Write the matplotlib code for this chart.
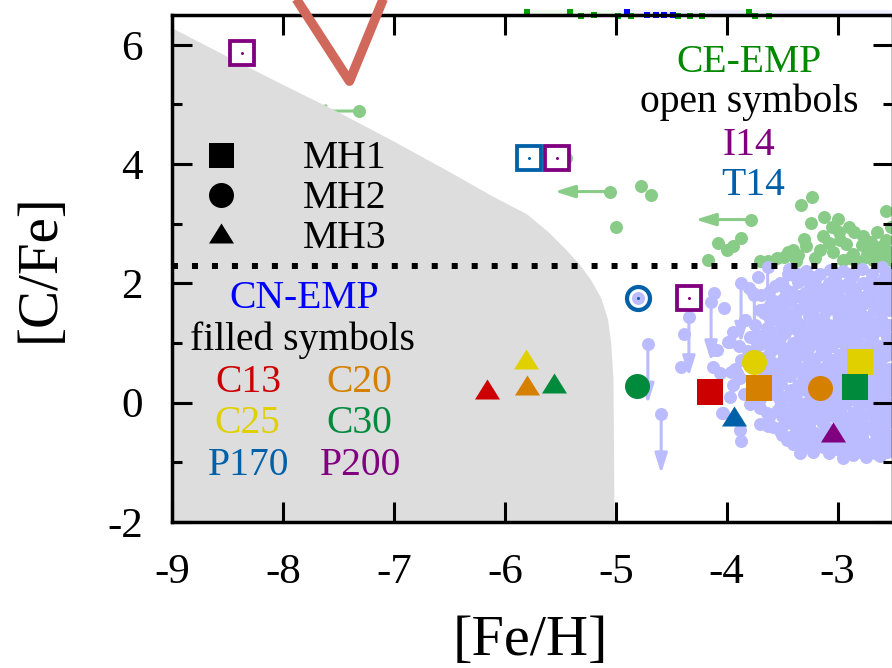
import matplotlib
matplotlib.use("Agg")
import matplotlib.pyplot as plt
from matplotlib.path import Path
from matplotlib.ticker import MultipleLocator, FixedLocator
from matplotlib.patches import Polygon, Rectangle

plt.rcParams["font.family"] = ["Liberation Serif", "DejaVu Serif"]
plt.rcParams["axes.unicode_minus"] = False

# ---------------------------------------------------------------- colours
LAV = "#bbbbff"
CEG = "#88cc88"
RED = "#cc0000"
ORA = "#d68000"
YEL = "#e0d000"
GRN = "#008a3c"
BLU = "#0060a8"
PUR = "#800080"

# ---------------------------------------------------------------- data
# CN-EMP stars (observed)
cn_feh = [
    -3.44, -3.28, -3.07, -2.95, -2.78, -2.60, -2.53,
    -3.72, -3.40, -3.31, -3.20, -3.02, -2.88, -2.70, -2.56,
    -3.80, -3.56, -3.47, -3.24, -3.13, -2.98, -2.84, -2.66, -2.52,
    -3.76, -3.69, -3.48, -3.36, -3.22, -3.10, -2.95, -2.80, -2.65, -2.55,
    -4.02, -3.61, -3.52, -3.31, -3.18, -3.05, -2.92, -2.78, -2.62,
    -3.83, -3.66, -3.57, -3.43, -3.26, -3.01, -2.87, -2.74, -2.59,
    -3.74, -3.55, -3.40, -3.33, -3.16, -3.08, -2.95, -2.82, -2.68, -2.54,
    -3.94, -3.70, -3.61, -3.47, -3.28, -3.21, -3.03, -2.90, -2.76, -2.63,
    -3.99, -3.64, -3.55, -3.40, -3.22, -3.12, -2.98, -2.84, -2.71, -2.56,
    -4.11, -3.81, -3.58, -3.46, -3.35, -3.27, -3.10, -2.93, -2.78, -2.64, -2.52,
    -3.87, -3.67, -3.49, -3.38, -3.20, -3.05, -2.89, -2.72, -2.59,
    -4.12, -3.92, -3.62, -3.53, -3.41, -3.30, -3.14, -2.98, -2.82, -2.66, -2.54,
    -4.06, -3.88, -3.57, -3.43, -3.25, -3.08, -2.95, -2.76, -2.60,
    -3.94, -3.62, -3.51, -3.36, -3.20, -3.00, -2.90, -2.70, -2.55,
    -3.97, -3.84, -3.58, -3.46, -3.34, -3.24, -3.05, -2.95, -2.78, -2.64, -2.53,
    -3.79, -3.52, -3.40, -3.28, -3.12, -3.02, -2.92, -2.74, -2.62,
    -4.03, -3.64, -3.55, -3.43, -3.32, -3.18, -3.07, -2.86, -2.70, -2.56,
    -3.70, -3.58, -3.47, -3.36, -3.24, -3.14, -2.98, -2.89, -2.80, -2.66, -2.55,
    -3.88, -3.52, -3.43, -3.30, -3.20, -3.06, -2.94, -2.84, -2.68, -2.58,
    -3.87, -3.46, -3.34, -3.25, -3.11, -3.01, -2.88, -2.77, -2.62, -2.52,
    -3.31, -3.13, -3.03, -2.98, -2.83, -2.70, -2.60,
    -3.34, -2.95, -2.86, -2.74, -2.62,
    -4.80, -4.38, -4.41, -4.11, -4.09, -3.97, -4.11, -4.04, -3.91, -3.83,
    -3.36, -3.16, -3.01, -2.86, -2.69, -2.57,
    -3.52, -3.36, -3.25, -3.08, -2.93, -2.77, -2.62,
    -3.62, -3.41, -3.29, -3.16, -3.03, -2.88, -2.72, -2.58,
    -3.57, -3.42, -3.26, -3.12, -2.99, -2.86, -2.70, -2.56,
    -3.70, -3.48, -3.36, -3.22, -3.10, -2.95, -2.81, -2.67, -2.54,
    -3.61, -3.48, -3.37, -3.22, -3.13, -2.98, -2.88, -2.75, -2.61,
    -3.64, -3.51, -3.37, -3.25, -3.11, -2.99, -2.86, -2.72, -2.58,
    -3.79, -3.52, -3.34, -3.16, -3.07, -2.96, -2.83, -2.69, -2.55,
    -3.89, -3.71, -3.50, -3.31, -3.17, -3.05, -2.91, -2.77, -2.63, -2.53,
    -3.74, -3.62, -3.41, -3.30, -3.15, -2.99, -2.84, -2.68, -2.55,
    -3.79, -3.58, -3.44, -3.25, -3.09, -2.93, -2.77, -2.62,
    -3.96, -3.66, -3.49, -3.35, -3.19, -3.02, -2.87, -2.70, -2.56,
    -3.77, -3.55, -3.30, -3.14, -3.04, -2.82, -2.66, -2.53,
    -3.71, -3.55, -3.42, -3.28, -3.12, -2.97, -2.85, -2.71, -2.59,
    -3.70, -3.52, -3.37, -3.19, -3.08, -2.99, -2.86, -2.69, -2.57,
    -3.70, -3.46, -3.34, -3.22, -3.15, -2.97, -2.81, -2.67, -2.54,
    -3.62, -3.50, -3.39, -3.28, -3.10, -3.02, -2.93, -2.76, -2.61,
    -3.63, -3.50, -3.39, -3.26, -3.10, -3.00, -2.88, -2.74, -2.61,
    -3.50, -3.38, -3.26, -3.15, -3.03, -2.91, -2.78, -2.65, -2.54,
    -3.40, -3.27, -3.18, -3.07, -2.93, -2.82, -2.68, -2.56,
    -3.22, -3.08, -2.92, -2.79, -2.66, -2.55,
]
cn_cfe = [
    2.24, 2.20, 2.23, 2.20, 2.25, 2.28, 2.18,
    2.10, 2.14, 2.11, 2.06, 2.08, 2.09, 2.06, 2.04,
    1.93, 1.95, 1.90, 1.94, 1.91, 1.93, 1.90, 1.95, 1.92,
    1.84, 1.81, 1.75, 1.79, 1.72, 1.78, 1.72, 1.78, 1.80, 1.76,
    1.58, 1.63, 1.60, 1.61, 1.64, 1.62, 1.60, 1.63, 1.61,
    1.39, 1.50, 1.45, 1.48, 1.46, 1.56, 1.47, 1.44, 1.56,
    1.30, 1.39, 1.33, 1.30, 1.35, 1.31, 1.28, 1.35, 1.33, 1.30,
    1.19, 1.11, 1.20, 1.17, 1.16, 1.20, 1.18, 1.16, 1.19, 1.22,
    1.02, 1.00, 1.05, 1.00, 1.05, 1.02, 1.04, 1.00, 1.00, 0.94,
    0.88, 0.86, 0.90, 0.88, 0.85, 0.90, 0.88, 0.87, 0.91, 0.86, 0.89,
    0.72, 0.75, 0.72, 0.70, 0.74, 0.71, 0.73, 0.76, 0.77,
    0.60, 0.57, 0.58, 0.60, 0.57, 0.59, 0.56, 0.66, 0.58, 0.60, 0.57,
    0.49, 0.42, 0.45, 0.44, 0.43, 0.46, 0.44, 0.42, 0.45,
    0.30, 0.28, 0.31, 0.29, 0.30, 0.28, 0.31, 0.30, 0.28,
    0.10, 0.15, 0.14, 0.12, 0.21, 0.14, 0.13, 0.15, 0.12, 0.14, 0.21,
    -0.02, -0.07, -0.07, 0.00, -0.02, -0.07, -0.01, 0.01, -0.07,
    -0.18, -0.18, -0.14, -0.17, -0.15, -0.16, -0.13, -0.17, -0.15, -0.23,
    -0.35, -0.40, -0.30, -0.32, -0.29, -0.33, -0.31, -0.35, -0.30, -0.32, -0.34,
    -0.46, -0.47, -0.57, -0.45, -0.51, -0.46, -0.48, -0.44, -0.46, -0.49,
    -0.65, -0.62, -0.60, -0.68, -0.61, -0.63, -0.60, -0.64, -0.62, -0.60,
    -0.75, -0.74, -0.78, -0.79, -0.79, -0.76, -0.79,
    -0.85, -0.93, -0.88, -0.91, -0.90,
    1.76, 1.16, 0.60, 1.84, 0.88, 1.02, 0.10, -0.17, 0.49, 1.39,
    2.16, 2.15, 2.17, 2.14, 2.16, 2.13,
    2.00, 2.02, 1.99, 2.01, 1.98, 2.00, 2.01,
    1.85, 1.86, 1.84, 1.85, 1.83, 1.86, 1.85, 1.84,
    1.70, 1.71, 1.69, 1.70, 1.72, 1.68, 1.70, 1.69,
    1.55, 1.54, 1.56, 1.55, 1.53, 1.55, 1.54, 1.56, 1.55,
    1.40, 1.41, 1.39, 1.40, 1.42, 1.39, 1.40, 1.38, 1.41,
    1.25, 1.26, 1.24, 1.25, 1.27, 1.24, 1.25, 1.26, 1.24,
    1.10, 1.09, 1.11, 1.10, 1.08, 1.10, 1.11, 1.09, 1.10,
    0.95, 0.96, 0.94, 0.95, 0.97, 0.95, 0.94, 0.96, 0.95, 0.93,
    0.80, 0.81, 0.79, 0.80, 0.82, 0.80, 0.79, 0.81, 0.80,
    0.65, 0.66, 0.64, 0.65, 0.67, 0.65, 0.64, 0.66,
    0.51, 0.52, 0.50, 0.51, 0.53, 0.51, 0.50, 0.52, 0.51,
    0.36, 0.37, 0.35, 0.36, 0.38, 0.36, 0.35, 0.37,
    0.22, 0.23, 0.21, 0.22, 0.24, 0.22, 0.21, 0.23, 0.22,
    0.06, 0.05, 0.07, 0.06, 0.04, 0.06, 0.07, 0.05, 0.06,
    -0.09, -0.10, -0.08, -0.09, -0.11, -0.09, -0.08, -0.10, -0.09,
    -0.24, -0.23, -0.25, -0.24, -0.22, -0.24, -0.25, -0.23, -0.24,
    -0.39, -0.40, -0.38, -0.39, -0.41, -0.39, -0.38, -0.40, -0.39,
    -0.54, -0.53, -0.55, -0.54, -0.52, -0.54, -0.55, -0.53, -0.54,
    -0.69, -0.70, -0.68, -0.69, -0.71, -0.69, -0.68, -0.70,
    -0.83, -0.84, -0.82, -0.83, -0.85, -0.83,
]
# CN-EMP upper limits on [C/Fe]
cn_lim_feh = [-4.71, -4.59, -4.34, -4.14, -3.87, -3.75, -3.63, -3.52, -3.45, -3.21, -3.03, -2.90]
cn_lim_cfe = [0.98, -0.19, 1.44, 1.69, 2.00, 1.80, 2.27, 1.70, 2.15, 2.10, 1.95, 2.15]

# CE-EMP stars (observed)
ce_feh = [
    -5.72, -5.45, -4.77, -4.68, -5.00, -3.23, -3.33, -3.24, -3.12, -3.00,
    -3.13, -2.99, -2.85, -2.77, -2.64, -2.56, -2.56, -3.87, -3.94, -4.08,
    -4.00, -4.17, -3.40, -3.28, -3.16, -3.04, -3.37, -3.63, -2.95, -2.73,
    -2.83, -2.68, -2.89, -2.56, -3.48, -3.08, -2.92, -2.60, -3.20, -3.45,
    -3.05, -2.90, -2.70, -2.60, -2.78, -2.98, -2.86, -2.66, -2.52, -2.52,
    -3.36, -3.55, -3.70, -3.30, -2.74,
]
ce_cfe = [
    4.17, 4.11, 3.63, 3.48, 2.95, 3.45, 3.31, 3.01, 3.11, 3.08,
    2.79, 2.87, 2.87, 2.79, 2.87, 3.22, 2.73, 2.76, 2.62, 2.67,
    2.56, 2.39, 2.56, 2.62, 2.56, 2.53, 2.37, 2.37, 2.39, 2.56,
    2.37, 2.39, 2.43, 2.56, 2.45, 2.68, 2.66, 2.45, 2.42, 2.53,
    2.95, 2.95, 2.70, 2.62, 2.65, 2.72, 2.50, 2.52, 2.95, 2.40,
    2.48, 2.42, 2.38, 2.75, 2.45,
]
# CE-EMP upper limits on [Fe/H]
ce_lim_feh = [-7.31, -5.05, -3.78]
ce_lim_cfe = [4.89, 3.54, 3.07]

# model yields, filled symbols (MH1 squares, MH2 circles, MH3 triangles)
mh1_model = ["C13", "C20", "C25", "C30"]
mh1_feh = [-4.15, -3.71, -2.80, -2.84]
mh1_cfe = [0.18, 0.25, 0.69, 0.27]

mh2_model = ["C30", "C25", "C20"]
mh2_feh = [-4.81, -3.75, -3.16]
mh2_cfe = [0.28, 0.68, 0.25]

mh3_model = ["C13", "C25", "C20", "C30", "P170", "P200"]
mh3_feh = [-6.16, -5.81, -5.80, -5.56, -3.93, -3.04]
mh3_cfe = [0.23, 0.73, 0.30, 0.33, -0.23, -0.49]

# model yields, open symbols (I14 / T14)
i14_feh = [-8.37, -5.53, -4.34]
i14_cfe = [5.87, 4.11, 1.76]
t14_sq_feh = [-5.78]
t14_sq_cfe = [4.11]
t14_ci_feh = [-4.80]
t14_ci_cfe = [1.76]

# excluded region boundary
excl_feh = [-9.03, -8.50, -8.00, -7.50, -7.00, -6.50, -6.10, -5.80, -5.60, -5.45,
            -5.33, -5.22, -5.13, -5.07, -5.04, -5.02, -5.01, -9.03]
excl_cfe = [6.31, 5.80, 5.33, 4.87, 4.38, 3.87, 3.45, 3.16, 2.85, 2.57,
            2.33, 2.05, 1.75, 1.40, 1.00, 0.40, -2.00, -2.00]

# dividing line between CN-EMP and CE-EMP
cfe_div = 2.3

# thick curve at the top
curve_feh = [-8.03, -7.40, -7.00]
curve_cfe = [7.20, 5.39, 7.20]

# off-scale marks along the top edge
top_g_feh = [-5.80, -5.41, -5.31, -5.20, -4.98, -4.86, -4.44, -4.33, -4.22, -3.80, -3.74, -3.62]
top_g_cfe = [6.55, 6.55, 6.49, 6.50, 6.49, 6.48, 6.49, 6.48, 6.48, 6.55, 6.48, 6.48]
top_b_feh = [-4.90, -4.72, -4.64, -4.56, -4.48]
top_b_cfe = [6.55, 6.50, 6.50, 6.50, 6.50]

model_colors = {"C13": RED, "C20": ORA, "C25": YEL, "C30": GRN, "P170": BLU, "P200": PUR}

# ---------------------------------------------------------------- figure
W, H = 892, 668
fig = plt.figure(figsize=(W / 100, H / 100), dpi=100)
ax = fig.add_axes([172 / W, 1 - 522 / H, (893 - 172) / W, (522 - 15) / H])
ax.set_xlim(-9, -2.5)
ax.set_ylim(-2, 6.5)

tri = Path([(-1.0, -0.8), (1.0, -0.8), (0.0, 0.8), (-1.0, -0.8)],
           [Path.MOVETO, Path.LINETO, Path.LINETO, Path.CLOSEPOLY])

PX = 72 / 100  # points per pixel
DOT = 13 * PX

# CE-EMP limits (left arrows) sit beneath the excluded region
for x, y in zip(ce_lim_feh, ce_lim_cfe):
    ax.annotate("", xy=(x - 0.5, y), xytext=(x, y),
                arrowprops=dict(arrowstyle="-|>,head_length=0.8,head_width=0.25",
                                color=CEG, lw=2.2, mutation_scale=15,
                                shrinkA=0, shrinkB=0), zorder=1)
ax.plot(ce_lim_feh, ce_lim_cfe, "o", color=CEG, ms=DOT, mew=0, zorder=1)

ax.add_patch(Polygon(list(zip(excl_feh, excl_cfe)), closed=True,
                     facecolor="#dddddd", edgecolor="none", zorder=1.5))

# CE-EMP points
ax.plot(ce_feh, ce_cfe, "o", color=CEG, ms=DOT, mew=0, zorder=2)

# CN-EMP limits (down arrows) and points
for x, y in zip(cn_lim_feh, cn_lim_cfe):
    ax.annotate("", xy=(x, y - 1.0), xytext=(x, y),
                arrowprops=dict(arrowstyle="-|>,head_length=0.8,head_width=0.25",
                                color=LAV, lw=2.2, mutation_scale=15,
                                shrinkA=0, shrinkB=0), zorder=2)
ax.plot(cn_lim_feh, cn_lim_cfe, "o", color=LAV, ms=DOT, mew=0, zorder=2)
ax.plot(cn_feh, cn_cfe, "o", color=LAV, ms=DOT, mew=0, zorder=2)

# dividing dotted line
ax.axhline(cfe_div, color="black", lw=6 * PX, ls=(0, (1, 2.33)),
           dash_capstyle="butt", zorder=3.5)

# filled model symbols
for m, x, y in zip(mh1_model, mh1_feh, mh1_cfe):
    ax.plot(x, y, "s", color=model_colors[m], ms=26 * PX, mew=0, zorder=3)
for m, x, y in zip(mh2_model, mh2_feh, mh2_cfe):
    ax.plot(x, y, "o", color=model_colors[m], ms=25 * PX, mew=0, zorder=3)
for m, x, y in zip(mh3_model, mh3_feh, mh3_cfe):
    ax.plot(x, y, marker=tri, color=model_colors[m], ms=25 * PX, mew=0,
            ls="none", zorder=3)

# open model symbols with centre dot
ax.plot(i14_feh, i14_cfe, "s", mfc="white", mec=PUR, ms=23.5 * PX,
        mew=3.8 * PX, zorder=3, clip_on=False)
ax.plot(i14_feh, i14_cfe, "o", color=PUR, ms=3 * PX, mew=0, zorder=3.1)
ax.plot(t14_sq_feh, t14_sq_cfe, "s", mfc="white", mec=BLU, ms=23.5 * PX,
        mew=3.8 * PX, zorder=3)
ax.plot(t14_sq_feh, t14_sq_cfe, "o", color=BLU, ms=3 * PX, mew=0, zorder=3.1)
ax.plot(t14_ci_feh, t14_ci_cfe, "o", mfc="none", mec=BLU, ms=23 * PX,
        mew=4.2 * PX, zorder=3)
ax.plot(t14_ci_feh, t14_ci_cfe, "o", color=BLU, ms=3 * PX, mew=0, zorder=3.1)

# thick curve crossing the top edge
ax.plot(curve_feh, curve_cfe, color="#d0685c", lw=6.8, solid_joinstyle="round",
        solid_capstyle="butt", clip_on=False, zorder=6)

# off-scale marks on the top edge
ax.add_patch(Rectangle((-5.82, 6.50), 0.84, 0.09, facecolor="#effaef",
                       edgecolor="none", clip_on=False, zorder=0.5))
ax.add_patch(Rectangle((-4.98, 6.50), 2.5, 0.09, facecolor="#efefff",
                       edgecolor="none", clip_on=False, zorder=0.5))
ax.plot(top_g_feh, top_g_cfe, "s", color="#00a000", ms=6 * PX, mew=0,
        clip_on=False, zorder=1)
ax.plot(top_b_feh, top_b_cfe, "s", color="#0000ff", ms=6 * PX, mew=0,
        clip_on=False, zorder=1)

# ---------------------------------------------------------------- key texts
TXT = 28.5
ax.text(-3.80, 5.55, "CE-EMP", color="#008800", fontsize=TXT, ha="center", va="baseline", zorder=4)
ax.text(-3.80, 4.88, "open symbols", color="black", fontsize=TXT, ha="center", va="baseline", zorder=4)
ax.text(-3.80, 4.16, "I14", color=PUR, fontsize=TXT, ha="center", va="baseline", zorder=4)
ax.text(-3.76, 3.48, "T14", color=BLU, fontsize=TXT, ha="center", va="baseline", zorder=4)

ax.text(-7.81, 1.58, "CN-EMP", color="#0000ff", fontsize=TXT, ha="center", va="baseline", zorder=4)
ax.text(-7.82, 0.88, "filled symbols", color="black", fontsize=TXT, ha="center", va="baseline", zorder=4)
key_pos = {"C13": (-8.31, 0.18), "C20": (-7.31, 0.18),
           "C25": (-8.32, -0.51), "C30": (-7.31, -0.51),
           "P170": (-8.31, -1.21), "P200": (-7.30, -1.21)}
for name, (x, y) in key_pos.items():
    ax.text(x, y, name, color=model_colors[name], fontsize=TXT,
            ha="center", va="baseline", zorder=4)

mh_markers = ["s", "o", tri]
mh_names = ["MH1", "MH2", "MH3"]
mh_key_y = [4.16, 3.48, 2.85]
mh_text_y = [3.93, 3.26, 2.59]
for mk, name, yk, yt in zip(mh_markers, mh_names, mh_key_y, mh_text_y):
    ax.plot(-8.56, yk, marker=mk, color="black", ms=25 * PX, mew=0,
            ls="none", zorder=4)
    ax.text(-7.82, yt, name, color="black", fontsize=TXT, ha="left",
            va="baseline", zorder=4)

# ---------------------------------------------------------------- axes styling
ax.xaxis.set_major_locator(FixedLocator([-9, -8, -7, -6, -5, -4, -3]))
ax.yaxis.set_major_locator(FixedLocator([-2, 0, 2, 4, 6]))
ax.yaxis.set_minor_locator(MultipleLocator(1))
ax.tick_params(which="both", direction="in", top=True, right=True,
               width=2.2, colors="black")
ax.tick_params(which="major", length=14.4, labelsize=31)
ax.tick_params(which="minor", length=7.2)
ax.tick_params(axis="x", which="major", pad=23)
ax.tick_params(axis="y", which="major", pad=21)
for sp in ax.spines.values():
    sp.set_linewidth(2.5)
    sp.set_zorder(5)
ax.xaxis.set_zorder(5)
ax.yaxis.set_zorder(5)

fig.text(530 / W, 1 - 655 / H, "[Fe/H]", fontsize=42, ha="center", va="baseline")
fig.text(40 / W, 1 - 268 / H, "[C/Fe]", fontsize=41, ha="center", va="center",
         rotation=90)

fig.savefig("out.png", dpi=100)
